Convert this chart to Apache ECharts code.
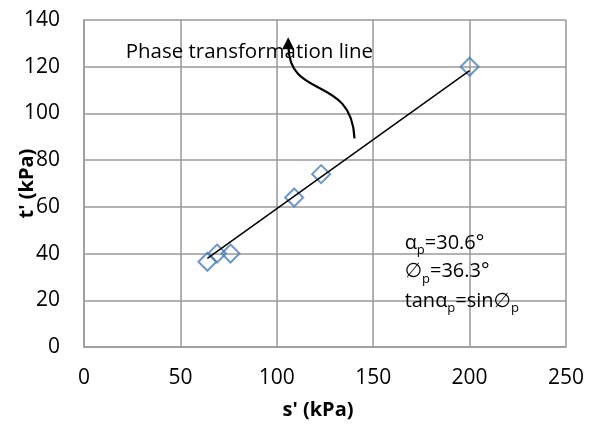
<!DOCTYPE html>
<html>
<head>
<meta charset="utf-8">
<script src="https://cdn.jsdelivr.net/npm/echarts@6/dist/echarts.min.js"></script>
<style>
  html, body { margin: 0; padding: 0; background: #fff; }
  #chart { width: 598px; height: 426px; }
</style>
</head>
<body>
<div id="chart"></div>
<script>
// measured points, s' and t' in kPa
const sValues = [64, 69, 76, 109, 123, 200]
const tValues = [36.5, 40, 40, 64, 74, 120]
// phase transformation line (through origin, tan 30.6deg)
const lineS = [64, 200]
const lineT = [37.9, 118.3]
const xTicks = [0, 250, 50]
const yTicks = [0, 140, 20]

const FONT = '"Open Sans", "DejaVu Sans", sans-serif'
const GRID = '#999999'

const chart = echarts.init(document.getElementById('chart'), null, { renderer: 'canvas' })

chart.setOption({
  animation: false,
  backgroundColor: '#fff',
  grid: { left: 84, right: 32, top: 20, bottom: 79, containLabel: false, outerBoundsMode: 'none' },
  xAxis: {
    type: 'value',
    min: xTicks[0], max: xTicks[1], interval: xTicks[2],
    name: "s' (kPa)",
    nameLocation: 'middle',
    nameGap: 53,
    nameMoveOverlap: false,
    nameTextStyle: { fontFamily: FONT, fontSize: 20, fontWeight: 'bold', color: '#000', padding: [0, 14, 0, 0] },
    axisLine: { show: true, lineStyle: { color: GRID, width: 1.5 } },
    axisTick: { show: false },
    axisLabel: { fontFamily: FONT, fontSize: 21, color: '#000', margin: 21 },
    splitLine: { show: true, lineStyle: { color: GRID, width: 1.5 } }
  },
  yAxis: {
    type: 'value',
    min: yTicks[0], max: yTicks[1], interval: yTicks[2],
    name: "t' (kPa)",
    nameLocation: 'middle',
    nameRotate: 90,
    nameGap: 47,
    nameMoveOverlap: false,
    nameTextStyle: { fontFamily: FONT, fontSize: 20, fontWeight: 'bold', color: '#000' },
    axisLine: { show: true, lineStyle: { color: GRID, width: 1.5 } },
    axisTick: { show: false },
    axisLabel: { fontFamily: FONT, fontSize: 21, color: '#000', margin: 24 },
    splitLine: { show: true, lineStyle: { color: GRID, width: 1.5 } }
  },
  series: [
    {
      type: 'scatter',
      data: sValues.map((s, i) => [s, tValues[i]]),
      symbol: 'diamond',
      symbolSize: 18,
      itemStyle: { color: 'rgba(0,0,0,0)', borderColor: '#4a7ebb', borderWidth: 2 },
      z: 2
    },
    {
      type: 'line',
      data: lineS.map((s, i) => [s, lineT[i]]),
      showSymbol: false,
      lineStyle: { color: '#000', width: 1.5 },
      z: 3
    }
  ]
})

// annotations placed in data coordinates
const toPx = (p) => chart.convertToPixel({ gridIndex: 0 }, p)
const arrowStart = toPx([140.3, 89.3])
const arrowCp1 = toPx([138.9, 116.5])
const arrowCp2 = toPx([106.7, 105.7])
const arrowTip = toPx([105.9, 132.2])

const sub = { fontFamily: FONT, fontSize: 13, verticalAlign: 'bottom', padding: [15, 0, 0, 0] }
const main = { fontFamily: FONT, fontSize: 20 }
const noteRich = { m: main, s: sub }
const noteLines = [
  { y: 44.6, text: '{m|α}{s|p}{m|=30.6°}' },
  { y: 32.4, text: '{m|∅}{s|p}{m|=36.3°}' },
  { y: 19.6, text: '{m|tanα}{s|p}{m|=sin∅}{s|p}' }
]
const titlePos = toPx([21.6, 126.4])

chart.setOption({
  graphic: [
    {
      type: 'text',
      x: titlePos[0], y: titlePos[1],
      style: { text: 'Phase transformation line', font: '20.5px ' + FONT, fill: '#000', verticalAlign: 'middle' },
      z: 10
    },
    {
      type: 'bezierCurve',
      shape: {
        x1: arrowStart[0], y1: arrowStart[1],
        cpx1: arrowCp1[0], cpy1: arrowCp1[1],
        cpx2: arrowCp2[0], cpy2: arrowCp2[1],
        x2: arrowTip[0] + 0.3, y2: arrowTip[1] + 9
      },
      style: { stroke: '#000', lineWidth: 2.2, fill: null },
      z: 11
    },
    {
      type: 'polygon',
      shape: {
        points: [
          [arrowTip[0], arrowTip[1] - 1],
          [arrowTip[0] - 6, arrowTip[1] + 11],
          [arrowTip[0] + 6, arrowTip[1] + 11]
        ]
      },
      style: { fill: '#000' },
      z: 11
    },
    ...noteLines.map((l) => {
      const p = toPx([166.3, l.y])
      return {
        type: 'text',
        x: p[0], y: p[1],
        style: { text: l.text, rich: noteRich, fill: '#000', verticalAlign: 'middle' },
        z: 10
      }
    })
  ]
})

window.addEventListener('resize', () => {
  chart && chart.resize()
})
</script>
</body>
</html>
